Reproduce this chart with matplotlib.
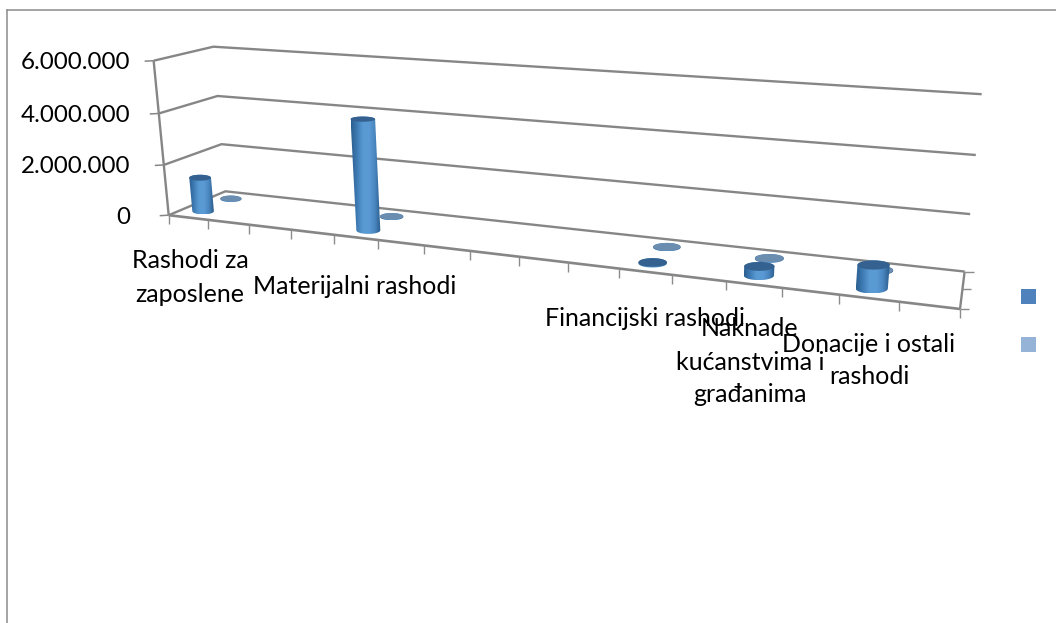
import numpy as np
import matplotlib
matplotlib.use("Agg")
import matplotlib.pyplot as plt
from matplotlib.patches import Polygon, Rectangle
from matplotlib.colors import LinearSegmentedColormap

plt.rcParams['font.family'] = ['Lato', 'DejaVu Sans']

# ---- data ----
categories = ["Rashodi za\nzaposlene", "Materijalni rashodi", "Financijski rashodi",
              "Naknade\nkućanstvima i\ngrađanima", "Donacije i ostali\nrashodi"]
category_slots = [0, 4, 10, 12, 14]      # position along the 16-slot category axis
series_1 = [1350000, 4200000, 30000, 320000, 800000]
series_2 = [20000, 20000, 20000, 20000, 20000]
y_ticks = [0, 2000000, 4000000, 6000000]
y_tick_labels = ["0", "2.000.000", "4.000.000", "6.000.000"]
n_slots = 16

# ---- layout ----
W, H = 1056, 623
BAR_HALF_U = 0.275 / n_slots
BAR_HALF_D = 0.13
label_x = [190, 355, 645, 750, 869]
label_top = [261, 286, 319, 329, 344]
LINE_H = 33
FS_TICK = 17.4
FS_CAT = 18.0
GRID = "#868686"

# Control points that pin down the chart's 3D box (u along categories, d depth, v millions)
ctrl = [((0, 0, 0), (168, 215)), ((0, 0, 2), (163, 165)), ((0, 0, 4), (158, 113)), ((0, 0, 6), (155, 62)),
        ((0, 1, 0), (227, 192)), ((0, 1, 2), (221, 144)), ((0, 1, 4), (216, 96)), ((0, 1, 6), (214, 46)),
        ((1, 1, 0), (964, 272)), ((1, 1, 2), (971, 214)), ((1, 1, 4), (975, 155)), ((1, 1, 6), (982, 94)),
        ((1, 0, 0), (960, 309))]
front_ticks_px = [169, 209, 249, 291, 334, 378, 424, 471, 519, 568, 618, 671, 726, 782, 839, 899, 960]
for k, x in enumerate(front_ticks_px):
    u = k / 16
    ctrl.append(((u, 0, 0), (x, 215 + (x - 168) * (309 - 215) / (960 - 168))))

A = []
for (u, d, v), (x, y) in ctrl:
    A.append([u, d, v, 1, 0, 0, 0, 0, -x * u, -x * d, -x * v, -x])
    A.append([0, 0, 0, 0, u, d, v, 1, -y * u, -y * d, -y * v, -y])
_, _, Vt = np.linalg.svd(np.array(A, float))
CAM = Vt[-1].reshape(3, 4)


def proj(u, d, val):
    u, d, val = np.broadcast_arrays(np.asarray(u, float), np.asarray(d, float), np.asarray(val, float) / 1e6)
    p = CAM @ np.vstack([u.ravel(), d.ravel(), val.ravel(), np.ones(u.size)])
    return np.column_stack([p[0] / p[2], p[1] / p[2]])


def line(ax, pts, lw=2.0, color=GRID, z=2):
    pts = np.asarray(pts)
    ax.plot(pts[:, 0], pts[:, 1], color=color, lw=lw, solid_capstyle="butt", zorder=z)


fig = plt.figure(figsize=(W / 100, H / 100), dpi=100)
ax = fig.add_axes([0, 0, 1, 1])

# chart border
ax.plot([7, 7], [H, 9.5], color="#8c8c8c", lw=1.1, zorder=1)
ax.plot([7, W], [9.5, 9.5], color="#8c8c8c", lw=1.1, zorder=1)

# walls and gridlines
for v, lab in zip(y_ticks, y_tick_labels):
    pts = np.vstack([proj(0, 0, v), proj(0, 1, v), proj(1, 1, v)])
    line(ax, pts, lw=1.7)
    p0 = proj(0, 0, v)[0]
    line(ax, [p0, p0 + [-9, 0.5]], lw=1.1)
    ax.text(130, p0[1] + 2, lab, ha="right", va="center", fontsize=FS_TICK, color="black", zorder=6)
line(ax, np.vstack([proj(0, 0, 0), proj(0, 0, y_ticks[-1])]), lw=1.7)

# floor
line(ax, np.vstack([proj(0, 0, 0), proj(1, 0, 0)]), lw=1.9)
line(ax, np.vstack([proj(1, 0, 0), proj(1, 1, 0)]), lw=1.7)
for k in range(n_slots + 1):
    p = proj(k / n_slots, 0, 0)[0]
    line(ax, [p, p + [0, 9]], lw=1.0, color="#8c8c8c")
for d in (0, 0.5, 1):
    p = proj(1, d, 0)[0]
    line(ax, [p, p + [9, 0]], lw=1.0, color="#8c8c8c")

body_cmap = LinearSegmentedColormap.from_list(
    "cyl", ["#2c5f90", "#3f7cb5", "#5a9ad3", "#5b9bd5", "#4a86bf", "#2a5c8c"])
t = np.linspace(0, 2 * np.pi, 90)


def hull(points):
    pts = sorted(map(tuple, points))

    def half(seq):
        out = []
        for p in seq:
            while len(out) > 1 and ((out[-1][0] - out[-2][0]) * (p[1] - out[-2][1])
                                    - (out[-1][1] - out[-2][1]) * (p[0] - out[-2][0])) <= 0:
                out.pop()
            out.append(p)
        return out[:-1]
    return np.array(half(pts) + half(pts[::-1]))


def ellipse_at(uc, depth, val):
    """Screen-level ellipse for a cylinder end at value val."""
    c = proj(uc, depth, val)[0]
    ends = proj([uc - BAR_HALF_U, uc + BAR_HALF_U], depth, val)
    a = abs(ends[1, 0] - ends[0, 0]) / 2
    dep = proj(uc, [depth - BAR_HALF_D, depth + BAR_HALF_D], val)
    b = abs(dep[1, 1] - dep[0, 1]) / 2
    return np.column_stack([c[0] + a * np.cos(t), c[1] + b * np.sin(t)])


def cylinder(slot, depth, value, z, cap="#34618f"):
    uc = (slot + 0.5) / n_slots
    base = ellipse_at(uc, depth, 0)
    top = ellipse_at(uc, depth, value)
    shape = hull(np.vstack([base, top]))
    poly = Polygon(shape, closed=True, facecolor="none", edgecolor="none", zorder=z)
    ax.add_patch(poly)
    x0, x1 = shape[:, 0].min(), shape[:, 0].max()
    y0, y1 = shape[:, 1].min(), shape[:, 1].max()
    im = ax.imshow(np.linspace(0, 1, 64)[None, :], cmap=body_cmap, extent=[x0, x1, y1, y0], aspect="auto",
                   zorder=z, interpolation="bilinear")
    im.set_clip_path(poly)
    ax.add_patch(Polygon(top, closed=True, facecolor=cap, edgecolor="none", zorder=z + 0.1))


# back series first, then front series
for s, v in zip(category_slots, series_2):
    cylinder(s, 0.75, v, 3, cap="#6a8db0")
for s, v in zip(category_slots, series_1):
    cylinder(s, 0.25, v, 4)

# category labels
for cat, x, y in zip(categories, label_x, label_top):
    for i, row in enumerate(cat.split("\n")):
        ax.text(x, y + i * LINE_H, row, ha="center", va="center", fontsize=FS_CAT, color="black", zorder=6)

# legend swatches (entries have no visible text)
ax.add_patch(Rectangle((1021, 289), 15, 15, facecolor="#4f81bd", edgecolor="none", zorder=5))
ax.add_patch(Rectangle((1021, 337), 15, 15, facecolor="#95b3d7", edgecolor="none", zorder=5))

ax.set_xlim(0, W)
ax.set_ylim(H, 0)
ax.axis("off")
fig.savefig("out.png", dpi=100, facecolor="white")
